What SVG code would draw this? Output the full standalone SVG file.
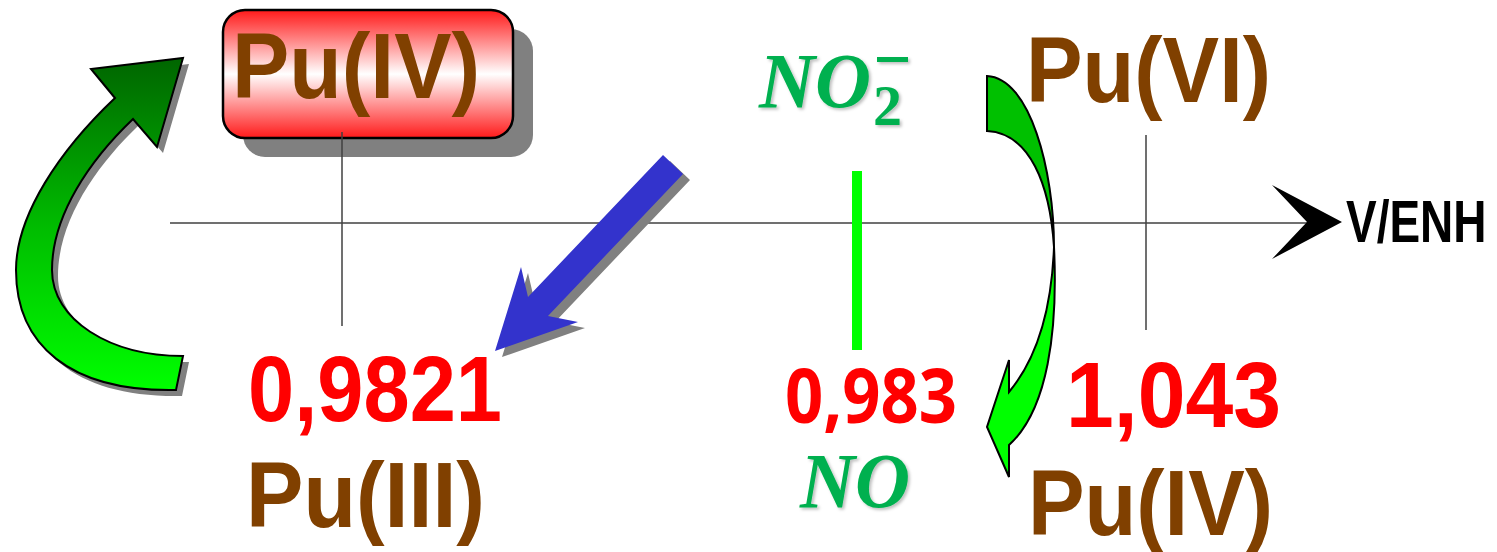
<svg xmlns="http://www.w3.org/2000/svg" width="1497" height="552" viewBox="0 0 1497 552">
  <defs>
    <linearGradient id="boxFill" x1="0" y1="0" x2="0" y2="1">
      <stop offset="0" stop-color="#FF1A1A"/>
      <stop offset="0.5" stop-color="#FFFFFF"/>
      <stop offset="1" stop-color="#FF1A1A"/>
    </linearGradient>
    <linearGradient id="cycleFill" gradientUnits="userSpaceOnUse" x1="0" y1="60" x2="0" y2="390">
      <stop offset="0" stop-color="#006600"/>
      <stop offset="0.5" stop-color="#00BB00"/>
      <stop offset="1" stop-color="#00FF00"/>
    </linearGradient>
    <filter id="soft" x="-10%" y="-10%" width="130%" height="130%">
      <feDropShadow dx="2" dy="2" stdDeviation="1.5" flood-color="#000000" flood-opacity="0.25"/>
    </filter>
  </defs>
  <style>
    .axis { stroke: #404040; stroke-width: 1.5; fill: none; }
    .species { font-family: "Liberation Sans", Arial, sans-serif; font-weight: bold; fill: #804000; font-size: 92px; }
    .potential { font-family: "Liberation Sans", Arial, sans-serif; font-weight: bold; fill: #FF0000; font-size: 92px; }
    .nitro { font-family: "Liberation Serif", "Times New Roman", serif; font-weight: bold; font-style: italic; fill: #00B050; font-size: 78px; }
    .outline { stroke: #000000; stroke-width: 2; stroke-linejoin: miter; }
    .shadow { fill: #808080; }
  </style>
  <rect width="1497" height="552" fill="#FFFFFF"/>

  <!-- potential axis -->
  <g id="axis">
    <line class="axis" x1="170" y1="223" x2="1308" y2="223"/>
    <polygon points="1272,185 1342,222 1272,259 1307,222" fill="#000000"/>
    <line class="axis" x1="1146" y1="135" x2="1146" y2="330"/>
    <text transform="translate(1346,242) scale(1,1.3)" font-family="Liberation Sans, Arial, sans-serif" font-weight="bold" font-size="46" fill="#000000">V/ENH</text>
  </g>

  <!-- Pu(IV) boxed species -->
  <g id="node-pu4-box">
    <rect class="shadow" x="243" y="29" width="290" height="128" rx="22" ry="22"/>
    <rect x="223" y="10" width="290" height="128" rx="22" ry="22" fill="url(#boxFill)" stroke="#000000" stroke-width="2.5"/>
    <text class="species" x="232" y="98" textLength="248" lengthAdjust="spacingAndGlyphs">Pu(IV)</text>
  </g>
  <line class="axis" x1="342" y1="132" x2="342" y2="326"/>

  <!-- Pu(III)/Pu(IV) couple -->
  <g id="node-pu3">
    <text class="potential" x="248" y="421" textLength="254" lengthAdjust="spacingAndGlyphs">0,9821</text>
    <text class="species" x="246" y="527" textLength="239" lengthAdjust="spacingAndGlyphs">Pu(III)</text>
  </g>

  <!-- nitrite / NO couple -->
  <g id="node-nitrite">
    <rect x="852" y="171" width="10" height="179" fill="#00FF00"/>
    <g filter="url(#soft)">
      <text class="nitro" x="759" y="107" textLength="112" lengthAdjust="spacingAndGlyphs">NO</text>
      <text x="873" y="125" font-family="Liberation Serif, Times New Roman, serif" font-weight="bold" font-size="58" fill="#00B050">2</text>
      <rect x="877" y="57" width="31" height="5" fill="#00B050"/>
    </g>
    <text x="785" y="423" font-family="Open Sans, Liberation Sans, sans-serif" font-weight="bold" font-size="76" fill="#FF0000" textLength="172" lengthAdjust="spacingAndGlyphs">0,983</text>
    <text class="nitro" x="800" y="507" textLength="110" lengthAdjust="spacingAndGlyphs" filter="url(#soft)">NO</text>
  </g>

  <!-- Pu(VI)/Pu(IV) couple -->
  <g id="node-pu6">
    <text class="species" x="1026" y="102" textLength="245" lengthAdjust="spacingAndGlyphs">Pu(VI)</text>
    <text class="potential" x="1066" y="427" font-size="90" textLength="215" lengthAdjust="spacingAndGlyphs">1,043</text>
    <text class="species" x="1028" y="535" textLength="245" lengthAdjust="spacingAndGlyphs">Pu(IV)</text>
  </g>

  <!-- reaction arrows -->
  <g id="connectors">
    <!-- regeneration loop Pu(III) -> Pu(IV) -->
    <g id="arrow-cycle">
      <path class="shadow" transform="translate(6,6)" d="M176,390 C70,392 16,345 16,270 C16,215 60,150 115,98 L91,69 L183,58 L157,147 L133,119 C90,160 52,215 52,270 C52,320 110,356 183,356 Z"/>
      <path class="outline" fill="url(#cycleFill)" d="M176,390 C70,392 16,345 16,270 C16,215 60,150 115,98 L91,69 L183,58 L157,147 L133,119 C90,160 52,215 52,270 C52,320 110,356 183,356 Z"/>
    </g>
    <!-- reduction by nitrite -->
    <g id="arrow-reduce">
      <polygon class="shadow" transform="translate(7,6)" points="663,155 683,174 548,316 578,322 495,351 521,267 528,297"/>
      <polygon fill="#3333CC" points="663,155 683,174 548,316 578,322 495,351 521,267 528,297"/>
    </g>
    <!-- Pu(VI) -> Pu(IV) twisted arrow -->
    <g id="arrow-pu6">
      <path class="outline" fill="#00C000" d="M987,76 C1030,78 1054,170 1054,247 C1050,185 1030,133 987,131 Z"/>
      <path class="outline" fill="#00FF00" d="M1054,247 C1058,330 1048,410 1009,445 L1009,477 L987,427 L1009,360 L1009,392 C1040,355 1052,300 1054,247 Z"/>
    </g>
  </g>
</svg>
